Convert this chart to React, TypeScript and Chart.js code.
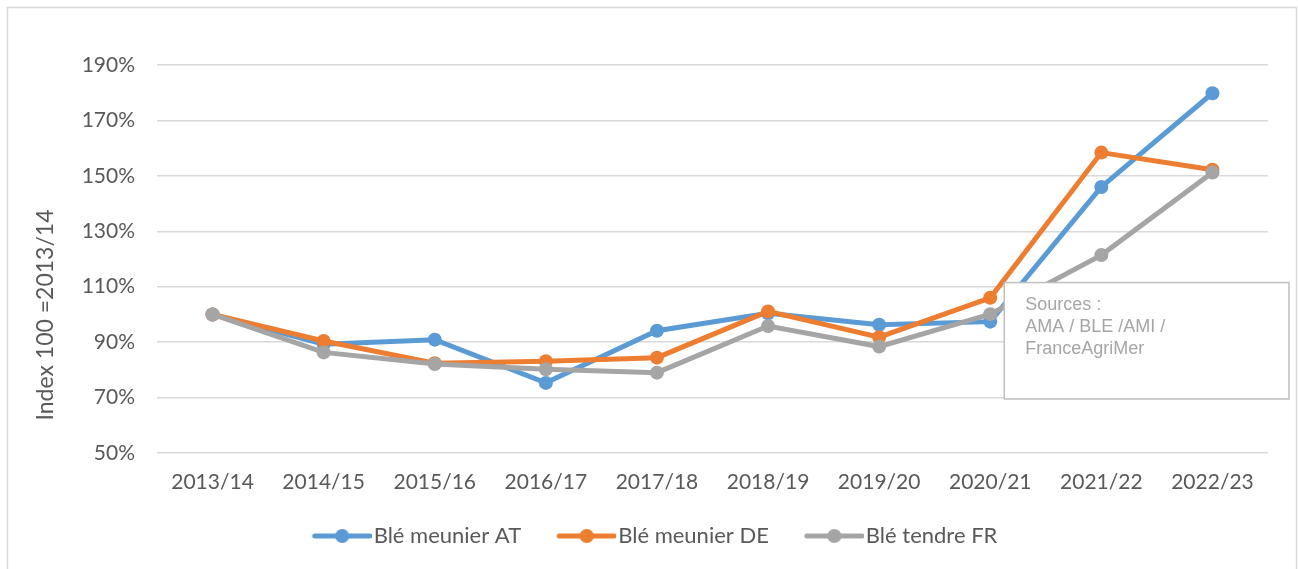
import React, { useEffect, useRef } from "react";
import { Chart, registerables } from "chart.js";

Chart.register(...registerables);

const categories = ["2013/14", "2014/15", "2015/16", "2016/17", "2017/18", "2018/19", "2019/20", "2020/21", "2021/22", "2022/23"];
const bleMeunierAT = [100, 89.2, 90.9, 75.3, 94.1, 100.4, 96.3, 97.4, 146.0, 179.8];
const bleMeunierDE = [100, 90.4, 82.4, 83.1, 84.4, 101.1, 91.8, 106.0, 158.4, 152.2];
const bleTendreFR = [100, 86.3, 82.1, 80.2, 79.0, 95.8, 88.4, 100.1, 121.4, 151.2];
const seriesNames = ["Blé meunier AT", "Blé meunier DE", "Blé tendre FR"];
const seriesColors = ["#5b9bd5", "#ed7d31", "#a5a5a5"];
const sourceLines = ["Sources :", "AMA / BLE /AMI /", "FranceAgriMer"];
const yTitle = "Index 100 =2013/14";

const FONT = "Lato, 'Noto Sans', sans-serif";
const TEXT = "#595959";

function legendIcon(color: string): HTMLCanvasElement {
  const c = document.createElement("canvas");
  c.width = 94;
  c.height = 16;
  const ctx = c.getContext("2d")!;
  ctx.strokeStyle = color;
  ctx.lineWidth = 5;
  ctx.lineCap = "round";
  ctx.beginPath();
  ctx.moveTo(37, 8);
  ctx.lineTo(92, 8);
  ctx.stroke();
  ctx.fillStyle = color;
  ctx.beginPath();
  ctx.arc(64.5, 8, 7, 0, Math.PI * 2);
  ctx.fill();
  return c;
}

const decorPlugin = {
  id: "decor",
  beforeDraw(chart: any) {
    const ctx = chart.ctx;
    ctx.save();
    ctx.fillStyle = "#ffffff";
    ctx.fillRect(0, 0, chart.width, chart.height);
    ctx.strokeStyle = "#d9d9d9";
    ctx.lineWidth = 1.5;
    ctx.strokeRect(7.5, 7.5, chart.width - 9, chart.height + 20);
    ctx.restore();
  },
  afterDraw(chart: any) {
    const ctx = chart.ctx;
    const x = chart.scales.x;
    const y = chart.scales.y;
    // axis title
    ctx.save();
    ctx.fillStyle = TEXT;
    ctx.font = "23px " + FONT;
    ctx.textAlign = "center";
    ctx.textBaseline = "middle";
    ctx.translate(46, (y.top + y.bottom) / 2 + 56);
    ctx.rotate(-Math.PI / 2);
    ctx.fillText(yTitle, 0, 0);
    ctx.restore();
    // sources box
    const left = x.getPixelForValue(7) + 14;
    const right = x.right + 21;
    const top = y.getPixelForValue(111.5);
    const bottom = y.getPixelForValue(69.5);
    ctx.save();
    ctx.fillStyle = "#ffffff";
    ctx.fillRect(left, top, right - left, bottom - top);
    ctx.strokeStyle = "#bfbfbf";
    ctx.lineWidth = 1.5;
    ctx.strokeRect(left, top, right - left, bottom - top);
    ctx.fillStyle = "#a6a6a6";
    ctx.font = "18px 'Liberation Sans', Arial, sans-serif";
    ctx.textBaseline = "middle";
    sourceLines.forEach((s, i) => {
      ctx.fillText(s, left + 21, top + 22 + i * 22);
    });
    ctx.restore();
  },
};

export default function App() {
  const ref = useRef<HTMLCanvasElement>(null);
  useEffect(() => {
    document.body.style.margin = "0";
    const data = [bleMeunierAT, bleMeunierDE, bleTendreFR];
    const chart = new Chart(ref.current!, {
      type: "line",
      data: {
        labels: categories,
        datasets: data.map((d, i) => ({
          label: seriesNames[i],
          data: d,
          borderColor: seriesColors[i],
          backgroundColor: seriesColors[i],
          borderWidth: 5,
          pointRadius: 7,
          pointHoverRadius: 7,
          pointBorderWidth: 0,
          pointStyle: "circle",
          tension: 0,
          order: 2 - i,
        })),
      },
      options: {
        animation: false,
        responsive: false,
        maintainAspectRatio: false,
        layout: { padding: { top: 65, right: 30, bottom: 12, left: 16 } },
        plugins: {
          tooltip: { enabled: false },
          legend: {
            position: "bottom",
            labels: {
              usePointStyle: true,
              pointStyleWidth: 76,
              boxHeight: 16,
              padding: 10,
              color: TEXT,
              font: { family: FONT, size: 22 },
              sort: (a: any, b: any) => a.datasetIndex - b.datasetIndex,
              generateLabels: (chart: any) =>
                chart.data.datasets.map((ds: any, i: number) => ({
                  text: ds.label,
                  fillStyle: seriesColors[i],
                  strokeStyle: seriesColors[i],
                  lineWidth: 0,
                  pointStyle: legendIcon(seriesColors[i]),
                  datasetIndex: i,
                  hidden: false,
                  fontColor: TEXT,
                })),
            },
          },
        },
        scales: {
          x: {
            offset: true,
            afterFit: (s: any) => {
              s.height = 62;
            },
            grid: { display: false, drawTicks: false },
            border: { display: false },
            ticks: { color: TEXT, font: { family: FONT, size: 21 }, padding: 17, maxRotation: 0 },
          },
          y: {
            min: 50,
            max: 190,
            afterFit: (s: any) => {
              s.width = 141;
            },
            grid: { color: "#d9d9d9", lineWidth: 1.5, drawTicks: false },
            border: { display: false },
            ticks: {
              stepSize: 20,
              color: TEXT,
              padding: 22,
              font: { family: FONT, size: 21 },
              callback: (v: any) => v + "%",
            },
          },
        },
      },
      plugins: [decorPlugin],
    });
    return () => chart.destroy();
  }, []);
  return (
    <div style={{ position: "fixed", left: 0, top: 0, width: 1298, height: 569 }}>
      <canvas ref={ref} width={1298} height={569} style={{ width: 1298, height: 569, display: "block" }} />
    </div>
  );
}
